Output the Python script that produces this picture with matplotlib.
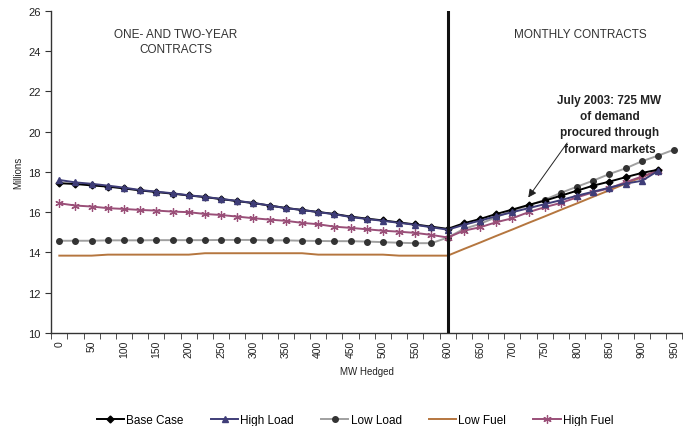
import numpy as np
import matplotlib
matplotlib.use("Agg")
import matplotlib.pyplot as plt

plt.rcParams['font.family'] = ['Liberation Sans', 'DejaVu Sans']

# MW hedged, every 25 MW
mw = np.arange(0, 950, 25)          # 0 .. 925
mw_low_load = np.arange(0, 975, 25)  # 0 .. 950

base_case = [17.44, 17.40, 17.33, 17.27, 17.18, 17.08, 17.00, 16.92, 16.83, 16.75,
             16.65, 16.55, 16.45, 16.33, 16.21, 16.11, 16.01, 15.91, 15.78, 15.68,
             15.59, 15.49, 15.39, 15.28, 15.17, 15.45, 15.66, 15.91, 16.13, 16.36,
             16.57, 16.82, 17.07, 17.32, 17.52, 17.74, 17.95, 18.11]
high_load = [17.60, 17.48, 17.41, 17.32, 17.22, 17.10, 17.02, 16.94, 16.84, 16.76,
             16.66, 16.56, 16.46, 16.33, 16.20, 16.11, 16.00, 15.90, 15.76, 15.66,
             15.57, 15.47, 15.37, 15.25, 15.13, 15.37, 15.58, 15.80, 16.00, 16.20,
             16.40, 16.60, 16.82, 17.02, 17.22, 17.42, 17.56, 18.05]
low_load = [14.58, 14.58, 14.58, 14.60, 14.60, 14.60, 14.61, 14.61, 14.61, 14.61,
            14.62, 14.62, 14.62, 14.60, 14.60, 14.58, 14.57, 14.56, 14.56, 14.54,
            14.51, 14.48, 14.46, 14.46, 14.74, 15.17, 15.42, 15.75, 16.08, 16.33,
            16.62, 16.96, 17.27, 17.57, 17.90, 18.18, 18.53, 18.81, 19.11]
low_fuel = [13.84, 13.84, 13.84, 13.89, 13.89, 13.89, 13.89, 13.89, 13.89, 13.96,
            13.96, 13.96, 13.96, 13.96, 13.96, 13.96, 13.89, 13.89, 13.89, 13.89,
            13.89, 13.84, 13.84, 13.84, 13.84, 14.17, 14.49, 14.82, 15.14, 15.47,
            15.79, 16.12, 16.44, 16.77, 17.09, 17.42, 17.74, 18.06]
high_fuel = [16.44, 16.33, 16.28, 16.20, 16.16, 16.11, 16.08, 16.03, 16.00, 15.91,
             15.86, 15.78, 15.70, 15.63, 15.57, 15.47, 15.40, 15.28, 15.22, 15.15,
             15.08, 15.03, 14.97, 14.87, 14.74, 15.08, 15.25, 15.50, 15.70, 16.00,
             16.25, 16.46, 16.74, 16.99, 17.19, 17.49, 17.77, 18.06]

fig = plt.figure(figsize=(6.83, 4.27), dpi=100)
ax = fig.add_axes([0.075, 0.218, 0.924, 0.754])

ax.plot(mw, low_fuel, color='#b5763f', lw=1.4, label='Low Fuel', zorder=2)
ax.plot(mw_low_load, low_load, color='#a0a0a0', lw=1.4, marker='o', ms=4,
        mfc='#333333', mec='#333333', label='Low Load', zorder=3)
ax.plot(mw, high_fuel, color='#9a4f78', lw=1.4, marker=(6, 2, 0), ms=6,
        mec='#9a4f78', mew=0.9, label='High Fuel', zorder=4)
ax.plot(mw, base_case, color='black', lw=1.4, marker='D', ms=3.5,
        label='Base Case', zorder=5)
ax.plot(mw, high_load, color='#3f3d78', lw=1.4, marker='^', ms=5,
        label='High Load', zorder=6)

# split between contract types
ax.axvline(600, color='#111111', lw=2.2, zorder=7)

ax.set_xlim(-12.5, 962.5)
ax.set_ylim(10, 26)
ax.set_yticks(np.arange(10, 27, 2))
ax.set_xticks(np.arange(0, 951, 50))
ax.set_xticks(np.arange(-12.5, 963, 25), minor=True)
ax.tick_params(axis='x', which='major', length=0, labelsize=7.5, rotation=90, pad=5,
               labelcolor='#222222')
ax.tick_params(axis='x', which='minor', length=4, direction='out', color='#333333')
ax.tick_params(axis='y', length=4, direction='out', labelsize=8, labelcolor='#222222',
               color='#333333')
for s in ['top', 'right']:
    ax.spines[s].set_visible(False)
for s in ['left', 'bottom']:
    ax.spines[s].set_color('#333333')
    ax.spines[s].set_linewidth(1.0)

ax.set_ylabel('Millions', fontsize=7, color='#222222', labelpad=4)
ax.set_xlabel('MW Hedged', fontsize=7, color='#222222', labelpad=6)

ax.text(180, 24.5, 'ONE- AND TWO-YEAR\nCONTRACTS', ha='center', va='center',
        fontsize=8.5, color='#333333', linespacing=1.35)
ax.text(805, 24.85, 'MONTHLY CONTRACTS', ha='center', va='center',
        fontsize=8.5, color='#333333')

ax.text(850, 20.36, 'July 2003: 725 MW\nof demand\nprocured through\nforward markets',
        ha='center', va='center', fontsize=8.5, fontweight='bold', color='#222222',
        linespacing=1.45)
ax.annotate('', xy=(722, 16.62), xytext=(787, 19.55),
            arrowprops=dict(arrowstyle='-|>', color='#222222', lw=0.7,
                            mutation_scale=12))

handles, labels = ax.get_legend_handles_labels()
order = ['Base Case', 'High Load', 'Low Load', 'Low Fuel', 'High Fuel']
hmap = dict(zip(labels, handles))
fig.legend([hmap[k] for k in order], order, loc='lower center',
           bbox_to_anchor=(0.52, -0.025), ncol=5, frameon=False, fontsize=8.5,
           handlelength=2.3, columnspacing=2.3, handletextpad=0.2)

fig.savefig('out.png', dpi=100)
